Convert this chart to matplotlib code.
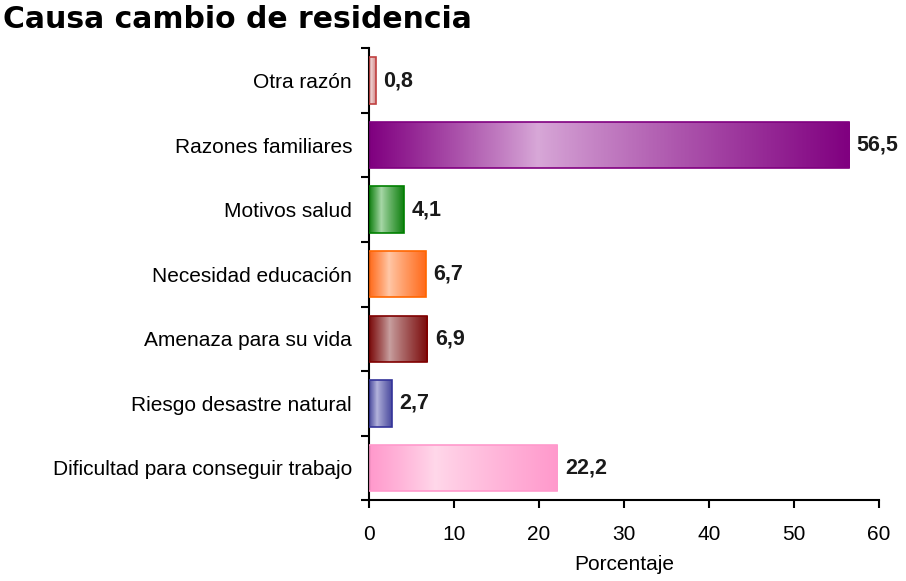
import numpy as np
import matplotlib
matplotlib.use("Agg")
import matplotlib.pyplot as plt
from matplotlib.colors import LinearSegmentedColormap

# datos
causas = ["Dificultad para conseguir trabajo", "Riesgo desastre natural",
          "Amenaza para su vida", "Necesidad educación", "Motivos salud",
          "Razones familiares", "Otra razón"]
porcentajes = [22.2, 2.7, 6.9, 6.7, 4.1, 56.5, 0.8]
etiquetas = ["22,2", "2,7", "6,9", "6,7", "4,1", "56,5", "0,8"]

bordes = ["#ff99cc", "#333399", "#800000", "#ff6600", "#008000", "#800080", "#c04040"]
oscuros = ["#ff99cc", "#4a4a9e", "#7a0a0a", "#ff6a1a", "#108010", "#800080", "#d08888"]
claros = ["#ffd8ea", "#b4b4dc", "#c8a0a0", "#ffc8a8", "#a8d8a8", "#d8a8d8", "#f0d0d0"]

plt.rcParams['font.family'] = ['Liberation Sans', 'DejaVu Sans']

fig = plt.figure(figsize=(9.06, 5.81), dpi=100)
ax = fig.add_axes([0.407, 0.139, 0.563, 0.778])

y = np.arange(len(causas))
alto = 0.72
barras = ax.barh(y, porcentajes, height=alto, color="none", edgecolor=bordes,
                 linewidth=1.2, zorder=3)

# degradado: oscuro en los bordes, claro hacia el 35 %
xs = np.linspace(0, 1, 256)
grad = np.where(xs < 0.35, 1 - xs / 0.35, (xs - 0.35) / 0.65)
grad = grad ** 0.9
for b, c1, c2 in zip(barras, oscuros, claros):
    cmap = LinearSegmentedColormap.from_list("g", [c2, c1])
    x0, y0 = b.get_x(), b.get_y()
    w, h = b.get_width(), b.get_height()
    im = ax.imshow(grad[np.newaxis, :], cmap=cmap, aspect="auto",
                   extent=[x0, x0 + w, y0, y0 + h], zorder=2, vmin=0, vmax=1)
    im.set_clip_path(b)

for i, (v, t) in enumerate(zip(porcentajes, etiquetas)):
    ax.text(v + 0.9, i, t, va="center", ha="left", fontsize=15.5,
            fontweight="bold", color="#1a1a1a")

ax.set_xlim(0, 60)
ax.set_ylim(-0.5, len(causas) - 0.5)
ax.set_xticks(np.arange(0, 61, 10))
ax.set_yticks(y)
ax.set_yticklabels(causas)
ax.set_yticks(np.arange(-0.5, len(causas), 1), minor=True)
ax.tick_params(axis="y", which="major", length=0, pad=12, labelsize=15)
ax.tick_params(axis="y", which="minor", length=6, width=1.5, direction="out")
ax.tick_params(axis="x", length=6, width=1.5, labelsize=15, pad=12)
ax.spines["top"].set_visible(False)
ax.spines["right"].set_visible(False)
ax.spines["left"].set_linewidth(1.5)
ax.spines["bottom"].set_linewidth(1.5)
ax.set_xlabel("Porcentaje", fontsize=15, labelpad=8)

fig.text(0.003, 0.992, "Causa cambio de residencia", fontsize=21.5,
         fontweight="bold", family="DejaVu Sans", va="top", ha="left")

fig.savefig("out.png", dpi=100)
